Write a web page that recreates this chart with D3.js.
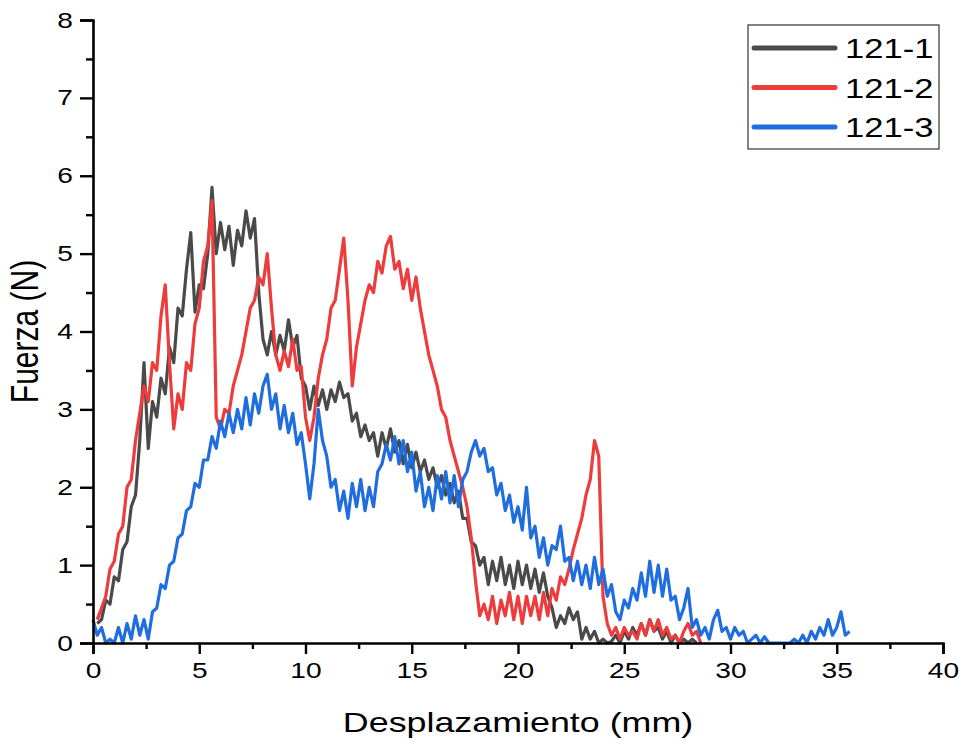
<!DOCTYPE html>
<html lang="en">
<head>
    <meta charset="UTF-8">
    <title>Fuerza vs Desplazamiento</title>
    <style type="text/css">
        * {
            margin: 0;
            padding: 0;
        }
        body {
            background: white;
        }
        text {
            font-family: "Liberation Sans", Arial, sans-serif;
            fill: #000;
        }
    </style>
</head>
<body>
<div id="chart-area"></div>
<script src="https://cdn.jsdelivr.net/npm/d3@7/dist/d3.min.js"></script>
<script type="text/javascript">
    const width = 965
    const height = 747

    const seriesNames = ['121-1', '121-2', '121-3']
    const seriesColors = ['#4a4a4a', '#ee3b3b', '#1f6ddf']
    const xTicks = [0, 5, 10, 15, 20, 25, 30, 35, 40]
    const yTicks = [0, 1, 2, 3, 4, 5, 6, 7, 8]

    const step = 0.2
    const start1 = 0.2
    const force1 = [
      0.25, 0.3, 0.55, 0.5, 0.85, 0.8, 1.2, 1.3, 1.75, 1.9,
      2.6, 3.6, 2.5, 3.1, 2.9, 3.4, 3.2, 3.8, 3.6, 4.3,
      4.2, 4.8, 5.27, 4.25, 4.6, 4.55, 5.0, 5.85, 5.0, 5.4,
      5.05, 5.35, 4.85, 5.3, 5.1, 5.55, 5.2, 5.45, 4.5, 3.9,
      3.7, 4.0, 3.7, 3.95, 3.75, 4.15, 3.8, 3.95, 3.4, 3.3,
      3.0, 3.3, 3.05, 3.25, 3.0, 3.25, 3.1, 3.35, 3.15, 3.2,
      2.85, 2.95, 2.65, 2.8, 2.6, 2.7, 2.4, 2.7, 2.5, 2.75,
      2.45, 2.6, 2.3, 2.55, 2.25, 2.45, 2.2, 2.35, 2.1, 2.25,
      2.0, 2.15, 1.9, 2.05, 1.8, 1.95, 1.6, 1.6, 1.3, 1.25,
      1.0, 1.1, 0.75, 1.05, 0.8, 1.1, 0.75, 1.0, 0.7, 1.05,
      0.75, 1.0, 0.7, 0.95, 0.65, 0.9, 0.6, 0.45, 0.2, 0.35,
      0.25, 0.45, 0.3, 0.4, 0.05, 0.2, 0.05, 0.15, 0.0, 0.05,
      0.0, 0.02, 0.1, 0.0, 0.15, 0.05, 0.2, 0.1, 0.25, 0.1,
      0.3, 0.15, 0.2, 0.05, 0.15, 0.0, 0.1, 0.0, 0.05, 0.0,
      0.05, 0.0
    ]

    const start2 = 0.2
    const force2 = [
      0.3, 0.45, 0.6, 0.95, 1.05, 1.4, 1.5, 2.0, 2.1, 2.6,
      2.95, 3.3, 3.1, 3.6, 3.5, 4.2, 4.6, 3.6, 2.75, 3.2,
      3.0, 3.6, 3.5, 4.1, 4.3, 4.9, 5.1, 5.68, 2.9, 2.75,
      3.0, 2.95, 3.3, 3.5, 3.7, 4.0, 4.3, 4.4, 4.7, 4.6,
      5.0, 4.3, 3.7, 3.5, 3.75, 3.55, 3.9, 3.5, 3.55, 2.9,
      2.6, 2.9, 3.4, 3.7, 3.9, 4.3, 4.4, 4.8, 5.2, 4.4,
      3.3, 3.8, 4.1, 4.4, 4.6, 4.5, 4.9, 4.75, 5.1, 5.22,
      4.8, 4.9, 4.55, 4.8, 4.4, 4.7, 4.3, 4.0, 3.7, 3.5,
      3.3, 3.0, 2.9, 2.6, 2.4, 2.2, 2.0, 1.75, 1.35, 0.8,
      0.35, 0.5, 0.3, 0.6, 0.25, 0.55, 0.35, 0.65, 0.3, 0.6,
      0.25, 0.6, 0.35, 0.6, 0.3, 0.65, 0.35, 0.7, 0.55, 0.85,
      0.75, 0.95, 1.2, 1.4, 1.6, 1.9, 2.1, 2.6, 2.4, 0.6,
      0.25, 0.1, 0.2, 0.05, 0.2, 0.1, 0.15, 0.05, 0.25, 0.1,
      0.3, 0.15, 0.3, 0.1, 0.2, 0.05, 0.1, 0.0, 0.15, 0.25,
      0.1, 0.15, 0.0
    ]

    const start3 = 0.0
    const force3 = [
      0.3, 0.1, 0.2, 0.0, 0.05, 0.0, 0.2, 0.0, 0.25, 0.05,
      0.35, 0.1, 0.3, 0.05, 0.4, 0.45, 0.75, 0.7, 1.0, 1.05,
      1.35, 1.4, 1.7, 1.75, 2.05, 2.0, 2.35, 2.35, 2.65, 2.5,
      2.85, 2.65, 2.95, 2.7, 3.0, 2.75, 3.15, 2.8, 3.2, 2.95,
      3.3, 3.45, 3.0, 3.2, 2.75, 3.05, 2.7, 2.95, 2.55, 2.7,
      2.3, 1.85, 2.3, 3.0, 2.6, 2.4, 2.0, 2.1, 1.7, 1.95,
      1.6, 2.05, 1.75, 2.1, 1.7, 2.0, 1.75, 2.2, 2.3, 2.55,
      2.35, 2.65, 2.3, 2.6, 2.2, 2.45, 1.95, 2.2, 1.75, 2.0,
      1.7, 2.15, 1.85, 2.2, 1.8, 2.15, 1.75, 2.1, 2.2, 2.45,
      2.6, 2.4, 2.5, 2.2, 2.25, 1.9, 2.05, 1.7, 1.9, 1.55,
      1.75, 1.45, 2.0, 1.35, 1.5, 1.1, 1.35, 1.0, 1.25, 1.2,
      1.5, 1.05, 1.1, 0.8, 1.05, 0.75, 1.0, 0.7, 1.1, 0.75,
      0.95, 0.6, 0.75, 0.4, 0.3, 0.55, 0.45, 0.7, 0.55, 0.9,
      0.6, 1.05, 0.65, 1.0, 0.6, 0.95, 0.55, 0.6, 0.3, 0.45,
      0.7, 0.2, 0.3, 0.1, 0.2, 0.05, 0.3, 0.42, 0.15, 0.2,
      0.05, 0.2, 0.1, 0.15, 0.0, 0.05, 0.1, 0.0, 0.08, 0.0,
      0.0, 0.0, 0.0, 0.0, 0.0, 0.05, 0.0, 0.1, 0.0, 0.15,
      0.05, 0.2, 0.1, 0.3, 0.1, 0.2, 0.4, 0.1, 0.15
    ]

    const series = [
      {name: seriesNames[0], start: start1, values: force1, color: seriesColors[0]},
      {name: seriesNames[1], start: start2, values: force2, color: seriesColors[1]},
      {name: seriesNames[2], start: start3, values: force3, color: seriesColors[2]}
    ]

    const margin = {top: 20, right: 22, bottom: 104, left: 93}
    const stretch = 1.28

    const svg = d3.select('#chart-area').append('svg')
    .attr('width', width)
    .attr('height', height)
    .style('background-color', 'white')

    const x = d3.scaleLinear()
    .domain([0, 40])
    .range([margin.left, width - margin.right])

    const y = d3.scaleLinear()
    .domain([0, 8])
    .range([height - margin.bottom, margin.top])

    const line = d3.line()
    .x(d => x(d[0]))
    .y(d => y(d[1]))

    svg.selectAll('path.series').data(series).enter().append('path')
    .attr('class', 'series')
    .attr('fill', 'none')
    .attr('stroke', d => d.color)
    .attr('stroke-width', 3.2)
    .attr('stroke-linejoin', 'round')
    .attr('d', d => line(d.values.map((v, i) => [d.start + i * step, v])))

    // minor ticks
    const xAxisMinor = d3.axisBottom(x).tickValues(d3.range(2.5, 40, 5)).tickSize(6).tickFormat('')
    const yAxisMinor = d3.axisLeft(y).tickValues(d3.range(0.5, 8, 1)).tickSize(7).tickFormat('')

    const xAxis = d3.axisBottom(x).tickValues(xTicks).tickSize(11).tickPadding(8)
    const yAxis = d3.axisLeft(y).tickValues(yTicks).tickSize(13).tickPadding(10)

    const gxm = svg.append('g').attr('transform', `translate(0,${y(0)})`).call(xAxisMinor)
    const gym = svg.append('g').attr('transform', `translate(${x(0)},0)`).call(yAxisMinor)
    const gx = svg.append('g').attr('transform', `translate(0,${y(0)})`).call(xAxis)
    const gy = svg.append('g').attr('transform', `translate(${x(0)},0)`).call(yAxis)

    ;[gxm, gym, gx, gy].forEach(g => {
      g.select('.domain').attr('stroke', '#000').attr('stroke-width', 2.6)
      g.selectAll('.tick line').attr('stroke', '#000').attr('stroke-width', 2.4)
    })
    gxm.select('.domain').remove()
    gym.select('.domain').remove()

    gx.selectAll('.tick text')
    .style('font-size', '22px')
    .attr('fill', '#000')
    .attr('transform', `scale(${stretch},1)`)

    gy.selectAll('.tick text')
    .style('font-size', '22px')
    .attr('fill', '#000')
    .attr('x', -20 / stretch)
    .attr('transform', `scale(${stretch},1)`)

    svg.append('text')
    .attr('transform', `translate(${(x(0) + x(40)) / 2},732) scale(${stretch},1)`)
    .attr('text-anchor', 'middle')
    .style('font-size', '28px')
    .text('Desplazamiento (mm)')

    svg.append('text')
    .attr('transform', `translate(38,${y(4)}) scale(${stretch},1) rotate(-90)`)
    .attr('text-anchor', 'middle')
    .style('font-size', '30px')
    .text('Fuerza (N)')

    // legend
    const legend = svg.append('g').attr('transform', 'translate(748,25)')
    legend.append('rect')
    .attr('width', 191)
    .attr('height', 124)
    .attr('fill', 'white')
    .attr('stroke', '#333')
    .attr('stroke-width', 1.2)

    const rows = legend.selectAll('g.row').data(series).enter().append('g')
    .attr('class', 'row')
    .attr('transform', (d, i) => `translate(0,${23 + i * 39.5})`)

    rows.append('line')
    .attr('x1', 6)
    .attr('x2', 87)
    .attr('stroke', d => d.color)
    .attr('stroke-width', 5)
    .attr('stroke-linecap', 'round')

    rows.append('text')
    .attr('transform', `translate(97,10) scale(${stretch},1)`)
    .style('font-size', '27px')
    .text(d => d.name)

</script>
</body>
</html>
